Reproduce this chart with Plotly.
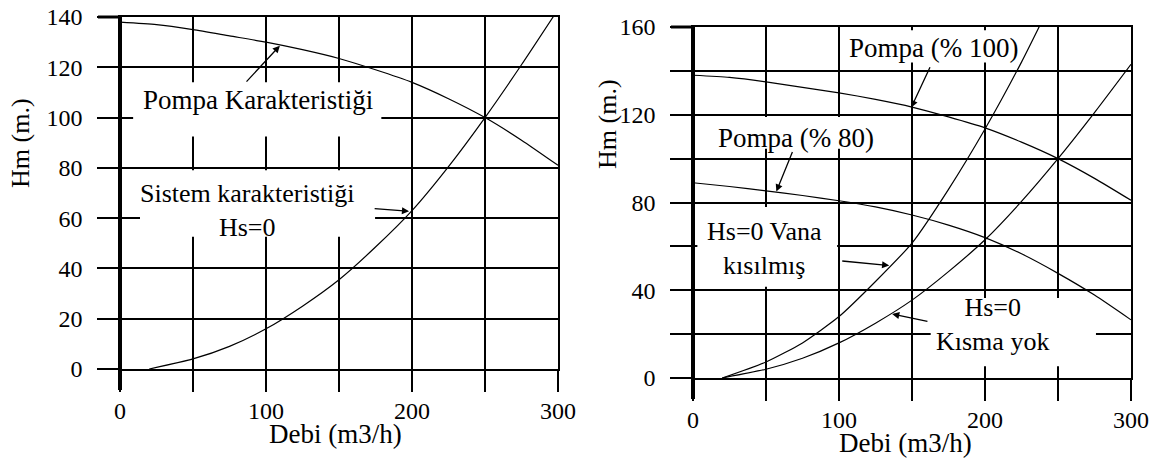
import plotly.graph_objects as go

# ---------------- data ----------------
q_pump = [0, 25, 50, 75, 100, 125, 150, 175, 200, 225, 250, 275, 300]
h_pump100 = [138, 137, 135, 132.5, 130, 127, 123.5, 119, 114, 107.5, 100, 91, 81]
h_pump80 = [89, 87.3, 85.3, 83.2, 80.8, 78, 74.3, 69.7, 64, 56.6, 47.7, 37.8, 26.5]

q_sys = [20, 50, 75, 100, 125, 150, 175, 200, 225, 250, 275, 300]
h_sys = [0, 4, 9, 16, 25, 35.5, 48.5, 63, 80.5, 100, 121, 143]

q_thr = [20, 50, 75, 100, 125, 150, 175, 200, 225, 240]
h_thr = [0, 7.3, 16, 28, 44, 61.5, 86, 113.5, 144, 164]

x_ticks = [0, 50, 100, 150, 200, 250, 300]
x_ticktext = ["0", "", "100", "", "200", "", "300"]
y1_ticks = [0, 20, 40, 60, 80, 100, 120, 140]
y1_ticktext = ["0", "20", "40", "60", "80", "100", "120", "140"]
y2_ticks = [0, 20, 40, 60, 80, 100, 120, 140, 160]
y2_ticktext = ["0", "", "40", "", "80", "", "120", "", "160"]

x_title = "Debi (m3/h)"
y_title = "Hm (m.)"

FONT = "Liberation Serif, Times New Roman, serif"
W, H = 1149, 459

fig = go.Figure()

line_style = dict(color="black", width=1.2, shape="spline", smoothing=0.6)

# left chart
fig.add_trace(go.Scatter(x=q_pump, y=h_pump100, mode="lines", line=line_style,
                         xaxis="x", yaxis="y", showlegend=False, hoverinfo="skip"))
fig.add_trace(go.Scatter(x=q_sys, y=h_sys, mode="lines", line=line_style,
                         xaxis="x", yaxis="y", showlegend=False, hoverinfo="skip"))
# right chart
fig.add_trace(go.Scatter(x=q_pump, y=h_pump100, mode="lines", line=line_style,
                         xaxis="x2", yaxis="y2", showlegend=False, hoverinfo="skip"))
fig.add_trace(go.Scatter(x=q_pump, y=h_pump80, mode="lines", line=line_style,
                         xaxis="x2", yaxis="y2", showlegend=False, hoverinfo="skip"))
fig.add_trace(go.Scatter(x=q_sys, y=h_sys, mode="lines", line=line_style,
                         xaxis="x2", yaxis="y2", showlegend=False, hoverinfo="skip"))
fig.add_trace(go.Scatter(x=q_thr, y=h_thr, mode="lines", line=line_style,
                         xaxis="x2", yaxis="y2", showlegend=False, hoverinfo="skip"))


def xaxis_cfg(domain, anchor):
    return dict(domain=domain, anchor=anchor, range=[0, 300], tickmode="array",
                tickvals=x_ticks, ticktext=x_ticktext, showgrid=True, gridcolor="black",
                gridwidth=1.5, ticks="outside", ticklen=21, tickwidth=1.5, tickcolor="black",
                showline=True, mirror=True, linecolor="black", linewidth=1.5,
                zeroline=False, fixedrange=True, automargin=False, ticklabelstandoff=-2,
                tickfont=dict(family=FONT, size=24, color="black"))


def yaxis_cfg(domain, anchor, rng, vals, text):
    return dict(domain=domain, anchor=anchor, range=rng, tickmode="array",
                tickvals=vals, ticktext=text, showgrid=True, gridcolor="black",
                gridwidth=1.5, ticks="outside", ticklen=21, tickwidth=1.5, tickcolor="black",
                showline=True, mirror=True, linecolor="black", linewidth=1.5,
                zeroline=False, fixedrange=True, automargin=False, ticklabelstandoff=10,
                tickfont=dict(family=FONT, size=24, color="black"))


L_X0, L_X1, L_Y0, L_Y1 = 120, 558, 369, 17
R_X0, R_X1, R_Y0, R_Y1 = 693, 1131, 378, 27


def px2paper_x(p):
    return p / W


def px2paper_y(p):
    return 1 - p / H


fig.update_layout(
    template="none",
    width=W, height=H, autosize=False,
    margin=dict(l=0, r=0, t=0, b=0, pad=0),
    paper_bgcolor="white", plot_bgcolor="white",
    xaxis=xaxis_cfg([px2paper_x(L_X0), px2paper_x(L_X1)], "y"),
    yaxis=yaxis_cfg([px2paper_y(L_Y0), px2paper_y(L_Y1)], "x", [0, 140], y1_ticks, y1_ticktext),
    xaxis2=xaxis_cfg([px2paper_x(R_X0), px2paper_x(R_X1)], "y2"),
    yaxis2=yaxis_cfg([px2paper_y(R_Y0), px2paper_y(R_Y1)], "x2", [0, 160], y2_ticks, y2_ticktext),
    font=dict(family=FONT, color="black"),
    showlegend=False,
)

shapes = []
# white label backgrounds (cover the grid like in the reference)
boxes = [
    ("x", "y", 9, 179, 92.5, 114),
    ("x", "y", 13.7, 174.7, 52.6, 79),
    ("x2", "y2", 103.7, 223, 143.8, 158.5),
    ("x2", "y2", 14, 126, 104.5, 119),
    ("x2", "y2", 3, 98.7, 41.6, 78),
    ("x2", "y2", 162.8, 276, 5.3, 36.5),
]
for xr, yr, x0, x1, y0, y1 in boxes:
    shapes.append(dict(type="rect", xref=xr, yref=yr, x0=x0, x1=x1, y0=y0, y1=y1,
                       fillcolor="white", line=dict(width=0), layer="above"))

# thick left axis lines and top-left ticks
for x0px, ytop, ybot in [(L_X0, L_Y1, L_Y0 + 21), (R_X0, R_Y1, R_Y0 + 21)]:
    shapes.append(dict(type="line", xref="paper", yref="paper",
                       x0=px2paper_x(x0px), x1=px2paper_x(x0px),
                       y0=px2paper_y(ybot), y1=px2paper_y(ytop),
                       line=dict(color="black", width=4), layer="above"))
    shapes.append(dict(type="line", xref="paper", yref="paper",
                       x0=px2paper_x(x0px - 22), x1=px2paper_x(x0px),
                       y0=px2paper_y(ytop), y1=px2paper_y(ytop),
                       line=dict(color="black", width=3), layer="above"))
fig.update_layout(shapes=shapes)

ann = []
tf = dict(family=FONT, size=27, color="black")
tf2 = dict(family=FONT, size=26, color="black")
labels = [
    ("x", "y", 94.2, 107.1, "Pompa Karakteristiği", tf),
    ("x", "y", 87.0, 62.9, "Sistem karakteristiği<br>Hs=0", tf2),
    ("x2", "y2", 164.6, 150.6, "Pompa (% 100)", tf),
    ("x2", "y2", 70.4, 109.4, "Pompa (% 80)", tf),
    ("x2", "y2", 48.8, 59.0, "Hs=0 Vana<br>kısılmış", tf2),
    ("x2", "y2", 205, 24.6, "Hs=0<br>Kısma yok", tf2),
]
for xr, yr, x, y, t, f in labels:
    ann.append(dict(xref=xr, yref=yr, x=x, y=y, text=t, showarrow=False,
                    font=f, xanchor="center", yanchor="middle", align="center"))

arrows = [
    ("x", "y", 85.7, 113.7, 109.5, 128.6),
    ("x", "y", 173.4, 63.8, 198, 62.7),
    ("x2", "y2", 162.8, 142.3, 149.5, 123.3),
    ("x2", "y2", 68.5, 103.7, 57.1, 85.0),
    ("x2", "y2", 101.2, 53.4, 134.4, 51.3),
    ("x2", "y2", 161.6, 25.7, 136.4, 29.2),
]
for xr, yr, ax, ay, x, y in arrows:
    ann.append(dict(xref=xr, yref=yr, x=x, y=y, ax=ax, ay=ay, axref=xr, ayref=yr,
                    text="", showarrow=True, arrowhead=2, arrowsize=1.1, arrowwidth=1.3,
                    arrowcolor="black", standoff=0, startstandoff=0))

# axis titles
ann.append(dict(xref="paper", yref="paper", x=px2paper_x(20), y=px2paper_y(143),
                text=y_title, textangle=-90, showarrow=False,
                font=dict(family=FONT, size=26, color="black"),
                xanchor="center", yanchor="middle"))
ann.append(dict(xref="paper", yref="paper", x=px2paper_x(607), y=px2paper_y(124),
                text=y_title, textangle=-90, showarrow=False,
                font=dict(family=FONT, size=26, color="black"),
                xanchor="center", yanchor="middle"))
ann.append(dict(xref="paper", yref="paper", x=px2paper_x(335), y=px2paper_y(434),
                text=x_title, showarrow=False,
                font=dict(family=FONT, size=27, color="black"),
                xanchor="center", yanchor="middle"))
ann.append(dict(xref="paper", yref="paper", x=px2paper_x(905), y=px2paper_y(443),
                text=x_title, showarrow=False,
                font=dict(family=FONT, size=27, color="black"),
                xanchor="center", yanchor="middle"))
fig.update_layout(annotations=ann)

fig.write_html("out.html", config={"displayModeBar": False},
               post_script="document.body.style.margin='0';")
